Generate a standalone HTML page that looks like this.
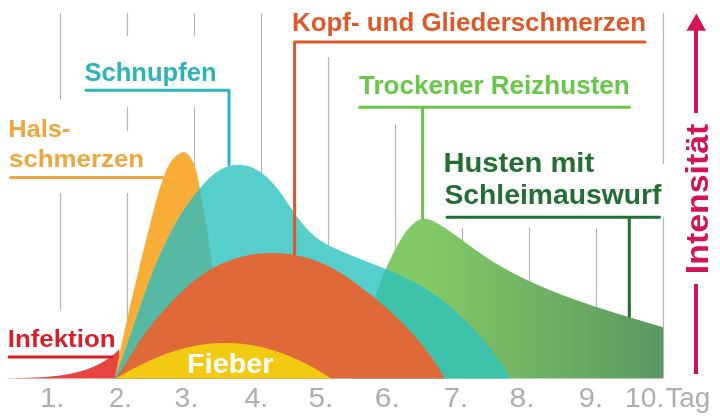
<!DOCTYPE html>
<html><head><meta charset="utf-8">
<style>
html,body{margin:0;padding:0;background:#fff;}
svg{display:block;will-change:transform;}
text{font-family:"Liberation Sans",sans-serif;}
</style></head><body>
<svg width="720" height="420" viewBox="0 0 720 420">
<defs>
<linearGradient id="gg" x1="425" y1="0" x2="663" y2="0" gradientUnits="userSpaceOnUse">
<stop offset="0" stop-color="#83ca66"/><stop offset="1" stop-color="#5a9862"/>
</linearGradient>
<clipPath id="cTeal"><path d="M114.50,378.50 L115.10,376.62 L115.88,374.71 L116.65,372.80 L117.41,370.89 L118.16,368.97 L118.91,367.05 L119.65,365.13 L120.38,363.20 L121.10,361.28 L121.83,359.35 L122.54,357.42 L123.25,355.49 L123.96,353.56 L124.66,351.63 L125.35,349.69 L126.04,347.76 L126.73,345.82 L127.41,343.88 L128.09,341.95 L128.77,340.01 L129.44,338.07 L130.12,336.13 L130.79,334.19 L131.45,332.25 L132.12,330.31 L132.78,328.37 L133.45,326.43 L134.11,324.49 L134.77,322.55 L135.43,320.61 L136.09,318.67 L136.75,316.73 L137.41,314.79 L138.07,312.85 L138.74,310.92 L139.40,308.98 L140.07,307.05 L140.73,305.11 L141.40,303.18 L142.08,301.25 L142.75,299.32 L143.43,297.39 L144.11,295.47 L144.79,293.54 L145.48,291.62 L146.17,289.70 L146.87,287.78 L147.57,285.87 L148.27,283.96 L148.98,282.04 L149.70,280.14 L150.42,278.23 L151.15,276.33 L151.88,274.43 L152.62,272.53 L153.37,270.64 L154.12,268.74 L154.88,266.86 L155.65,264.97 L156.42,263.09 L157.21,261.21 L158.00,259.34 L158.80,257.47 L159.61,255.60 L160.43,253.74 L161.26,251.88 L162.10,250.03 L162.95,248.18 L163.80,246.33 L164.67,244.49 L165.55,242.66 L166.44,240.83 L167.35,239.00 L168.26,237.18 L169.19,235.36 L170.12,233.55 L171.07,231.74 L172.04,229.94 L173.01,228.15 L174.00,226.36 L175.01,224.57 L176.02,222.80 L177.05,221.02 L178.10,219.26 L179.16,217.50 L180.23,215.74 L181.32,213.99 L182.43,212.25 L183.55,210.52 L184.69,208.79 L185.84,207.06 L187.01,205.35 L188.20,203.64 L189.40,201.94 L190.62,200.24 L191.86,198.56 L193.12,196.88 L194.39,195.21 L195.69,193.54 L197.00,191.88 L198.33,190.23 L199.68,188.59 L201.05,186.97 L202.44,185.36 L203.85,183.78 L205.29,182.22 L206.75,180.70 L208.23,179.22 L209.74,177.79 L211.27,176.40 L212.83,175.06 L214.42,173.79 L216.03,172.58 L217.68,171.44 L219.35,170.37 L221.05,169.38 L222.78,168.47 L224.55,167.66 L226.34,166.94 L228.17,166.31 L230.04,165.79 L231.93,165.38 L233.86,165.08 L235.81,164.89 L237.77,164.80 L239.74,164.83 L241.72,164.96 L243.69,165.21 L245.65,165.56 L247.59,166.03 L249.51,166.60 L251.40,167.28 L253.25,168.07 L255.08,168.95 L256.88,169.93 L258.64,170.99 L260.36,172.12 L262.05,173.33 L263.70,174.60 L265.32,175.93 L266.89,177.32 L268.43,178.75 L269.93,180.22 L271.38,181.72 L272.80,183.25 L274.17,184.81 L275.52,186.40 L276.83,188.00 L278.11,189.63 L279.37,191.28 L280.61,192.94 L281.83,194.62 L283.03,196.31 L284.22,198.01 L285.39,199.73 L286.57,201.44 L287.73,203.16 L288.90,204.89 L290.06,206.61 L291.23,208.33 L292.41,210.05 L293.59,211.76 L294.78,213.46 L295.98,215.16 L297.20,216.83 L298.43,218.50 L299.67,220.14 L300.93,221.76 L302.21,223.37 L303.52,224.94 L304.84,226.49 L306.19,228.01 L307.56,229.50 L308.96,230.96 L310.39,232.38 L311.84,233.76 L313.33,235.10 L314.86,236.40 L316.42,237.65 L318.01,238.85 L319.65,240.01 L321.32,241.12 L323.02,242.19 L324.75,243.21 L326.51,244.20 L328.30,245.16 L330.11,246.09 L331.93,246.99 L333.77,247.86 L335.63,248.72 L337.50,249.56 L339.38,250.38 L341.26,251.20 L343.14,252.00 L345.03,252.80 L346.93,253.59 L348.83,254.37 L350.73,255.15 L352.63,255.92 L354.54,256.68 L356.44,257.45 L358.35,258.20 L360.26,258.96 L362.18,259.71 L364.09,260.46 L366.00,261.21 L367.91,261.96 L369.83,262.71 L371.74,263.46 L373.65,264.21 L375.56,264.96 L377.47,265.72 L379.37,266.48 L381.27,267.25 L383.17,268.02 L385.07,268.79 L386.96,269.58 L388.85,270.37 L390.74,271.16 L392.62,271.97 L394.50,272.78 L396.37,273.61 L398.23,274.44 L400.09,275.28 L401.95,276.14 L403.79,277.01 L405.63,277.89 L407.46,278.79 L409.29,279.70 L411.10,280.62 L412.91,281.56 L414.71,282.52 L416.50,283.49 L418.28,284.48 L420.05,285.49 L421.82,286.52 L423.57,287.57 L425.31,288.63 L427.04,289.72 L428.76,290.82 L430.47,291.94 L432.17,293.07 L433.86,294.23 L435.54,295.39 L437.21,296.58 L438.87,297.78 L440.51,299.00 L442.15,300.24 L443.78,301.49 L445.39,302.75 L447.00,304.03 L448.59,305.33 L450.18,306.64 L451.75,307.96 L453.31,309.30 L454.86,310.65 L456.40,312.02 L457.93,313.40 L459.45,314.79 L460.96,316.20 L462.45,317.61 L463.93,319.04 L465.41,320.49 L466.87,321.94 L468.32,323.41 L469.76,324.88 L471.18,326.37 L472.60,327.87 L474.00,329.38 L475.40,330.90 L476.78,332.43 L478.15,333.97 L479.50,335.52 L480.85,337.08 L482.18,338.65 L483.51,340.23 L484.82,341.81 L486.11,343.41 L487.40,345.01 L488.67,346.62 L489.94,348.24 L491.18,349.86 L492.42,351.50 L493.65,353.14 L494.86,354.78 L496.06,356.44 L497.25,358.10 L498.42,359.76 L499.59,361.43 L500.74,363.11 L501.88,364.79 L503.00,366.48 L504.11,368.17 L505.21,369.86 L506.30,371.56 L507.38,373.27 L508.44,374.97 L509.49,376.68 L510.50,378.50 Z"/></clipPath>
</defs>
<rect width="720" height="420" fill="#fff"/>
<g stroke="#b6b6b6" stroke-width="1.2" fill="none">
<path d="M60.5,13 V100 M60.5,193 V310 M127.5,13 V36 M127.5,107 V131 M127.5,193 V330 M194.5,13 V36 M194.5,107 V300 M261.5,13 V300 M328.5,57 V300 M395.5,124 V300 M462.5,228 V300 M529.5,228 V330 M596.5,228 V330 M663.5,13 V164 M663.5,217 V378"/>
</g>
<path d="M8.30,378.50 L8.72,378.40 L9.10,378.39 L9.49,378.37 L9.87,378.36 L10.26,378.35 L10.64,378.33 L11.03,378.32 L11.41,378.30 L11.80,378.29 L12.18,378.28 L12.57,378.26 L12.95,378.25 L13.34,378.24 L13.73,378.22 L14.11,378.21 L14.50,378.20 L14.89,378.19 L15.28,378.17 L15.67,378.16 L16.06,378.15 L16.44,378.14 L16.83,378.13 L17.22,378.11 L17.61,378.10 L18.00,378.09 L18.39,378.08 L18.78,378.07 L19.17,378.05 L19.56,378.04 L19.96,378.03 L20.35,378.02 L20.74,378.01 L21.13,377.99 L21.52,377.98 L21.91,377.97 L22.31,377.96 L22.70,377.95 L23.09,377.93 L23.49,377.92 L23.88,377.91 L24.27,377.90 L24.67,377.89 L25.06,377.87 L25.45,377.86 L25.85,377.85 L26.24,377.83 L26.64,377.82 L27.03,377.81 L27.43,377.80 L27.82,377.78 L28.22,377.77 L28.61,377.75 L29.01,377.74 L29.40,377.73 L29.80,377.71 L30.19,377.70 L30.59,377.68 L30.98,377.67 L31.38,377.65 L31.78,377.64 L32.17,377.62 L32.57,377.61 L32.97,377.59 L33.36,377.57 L33.76,377.56 L34.15,377.54 L34.55,377.52 L34.95,377.51 L35.35,377.49 L35.74,377.47 L36.14,377.45 L36.54,377.43 L36.93,377.41 L37.33,377.39 L37.73,377.37 L38.12,377.35 L38.52,377.33 L38.92,377.31 L39.32,377.29 L39.71,377.27 L40.11,377.25 L40.51,377.23 L40.90,377.20 L41.30,377.18 L41.70,377.16 L42.10,377.13 L42.49,377.11 L42.89,377.08 L43.29,377.06 L43.68,377.03 L44.08,377.00 L44.48,376.98 L44.88,376.95 L45.27,376.92 L45.67,376.89 L46.07,376.86 L46.46,376.83 L46.86,376.80 L47.26,376.77 L47.65,376.74 L48.05,376.71 L48.45,376.68 L48.84,376.65 L49.24,376.61 L49.63,376.58 L50.03,376.54 L50.43,376.51 L50.82,376.47 L51.22,376.44 L51.61,376.40 L52.01,376.36 L52.40,376.33 L52.80,376.29 L53.19,376.25 L53.59,376.21 L53.98,376.17 L54.38,376.12 L54.77,376.08 L55.17,376.04 L55.56,376.00 L55.96,375.95 L56.35,375.91 L56.74,375.86 L57.14,375.81 L57.53,375.77 L57.92,375.72 L58.32,375.67 L58.71,375.62 L59.10,375.57 L59.49,375.52 L59.89,375.47 L60.28,375.41 L60.67,375.36 L61.06,375.31 L61.45,375.25 L61.84,375.20 L62.23,375.14 L62.63,375.08 L63.02,375.02 L63.41,374.96 L63.80,374.90 L64.18,374.84 L64.57,374.78 L64.96,374.72 L65.35,374.65 L65.74,374.59 L66.13,374.52 L66.52,374.46 L66.90,374.39 L67.29,374.32 L67.68,374.25 L68.07,374.18 L68.45,374.11 L68.84,374.04 L69.22,373.97 L69.61,373.89 L70.00,373.82 L70.38,373.74 L70.76,373.66 L71.15,373.58 L71.53,373.51 L71.92,373.42 L72.30,373.34 L72.68,373.26 L73.07,373.18 L73.45,373.09 L73.83,373.01 L74.21,372.92 L74.59,372.83 L74.97,372.74 L75.35,372.66 L75.73,372.56 L76.11,372.47 L76.49,372.38 L76.87,372.28 L77.25,372.19 L77.63,372.09 L78.00,371.99 L78.38,371.90 L78.76,371.80 L79.13,371.69 L79.51,371.59 L79.88,371.49 L80.26,371.38 L80.63,371.28 L81.01,371.17 L81.38,371.06 L81.76,370.95 L82.13,370.84 L82.50,370.73 L82.87,370.61 L83.24,370.50 L83.61,370.38 L83.98,370.27 L84.35,370.15 L84.72,370.03 L85.09,369.91 L85.46,369.78 L85.83,369.66 L86.20,369.53 L86.56,369.41 L86.93,369.28 L87.30,369.15 L87.66,369.02 L88.03,368.89 L88.39,368.75 L88.75,368.62 L89.12,368.48 L89.48,368.34 L89.84,368.21 L90.20,368.07 L90.56,367.92 L90.92,367.78 L91.28,367.64 L91.64,367.49 L92.00,367.34 L92.36,367.19 L92.72,367.04 L93.07,366.89 L93.43,366.74 L93.79,366.58 L94.14,366.42 L94.50,366.27 L94.85,366.11 L95.20,365.95 L95.56,365.78 L95.91,365.62 L96.26,365.45 L96.61,365.29 L96.96,365.12 L97.31,364.95 L97.66,364.77 L98.01,364.60 L98.35,364.43 L98.70,364.25 L99.05,364.07 L99.39,363.89 L99.74,363.71 L100.08,363.52 L100.43,363.34 L100.77,363.15 L101.11,362.96 L101.45,362.78 L101.79,362.58 L102.13,362.39 L102.47,362.20 L102.81,362.00 L103.15,361.80 L103.49,361.60 L103.82,361.40 L104.16,361.19 L104.49,360.99 L104.83,360.78 L105.16,360.57 L105.49,360.36 L105.83,360.15 L106.16,359.94 L106.49,359.72 L106.82,359.50 L107.15,359.28 L107.48,359.06 L107.80,358.84 L108.13,358.61 L108.46,358.39 L108.78,358.16 L109.10,357.93 L109.43,357.69 L109.75,357.46 L110.07,357.22 L110.39,356.99 L110.71,356.75 L111.03,356.50 L111.35,356.26 L111.67,356.02 L111.99,355.77 L112.30,355.52 L112.62,355.27 L112.93,355.01 L113.25,354.76 L113.56,354.50 L113.87,354.24 L114.18,353.98 L114.49,353.72 L114.80,353.45 L115.11,353.18 L115.42,352.92 L115.72,352.64 L116.03,352.37 L116.34,352.10 L116.64,351.82 L116.94,351.54 L117.24,351.26 L117.55,350.97 L117.85,350.69 L118.15,350.40 L118.44,350.11 L118.74,349.82 L119.04,349.53 L119.30,349.50 L121,378.5 Z" fill="#e84341"/>
<path d="M350.00,378.50 L350.49,377.10 L350.99,375.72 L351.50,374.33 L351.99,372.94 L352.48,371.54 L352.97,370.14 L353.45,368.74 L353.93,367.34 L354.40,365.93 L354.87,364.52 L355.33,363.11 L355.79,361.70 L356.24,360.28 L356.69,358.86 L357.14,357.44 L357.59,356.02 L358.03,354.60 L358.47,353.17 L358.90,351.74 L359.33,350.31 L359.77,348.88 L360.19,347.45 L360.62,346.01 L361.04,344.58 L361.47,343.14 L361.89,341.70 L362.31,340.27 L362.73,338.83 L363.14,337.39 L363.56,335.95 L363.98,334.51 L364.39,333.07 L364.81,331.62 L365.23,330.18 L365.64,328.74 L366.06,327.30 L366.47,325.86 L366.89,324.41 L367.31,322.97 L367.73,321.53 L368.15,320.09 L368.57,318.65 L368.99,317.21 L369.42,315.77 L369.84,314.34 L370.27,312.90 L370.70,311.47 L371.14,310.03 L371.58,308.60 L372.01,307.17 L372.46,305.74 L372.90,304.31 L373.35,302.88 L373.80,301.46 L374.26,300.04 L374.72,298.61 L375.18,297.20 L375.65,295.78 L376.13,294.37 L376.60,292.95 L377.09,291.54 L377.57,290.14 L378.07,288.73 L378.56,287.33 L379.07,285.94 L379.58,284.54 L380.09,283.15 L380.61,281.76 L381.14,280.37 L381.68,278.99 L382.22,277.61 L382.77,276.24 L383.32,274.87 L383.88,273.50 L384.45,272.14 L385.03,270.78 L385.61,269.42 L386.21,268.07 L386.81,266.73 L387.41,265.38 L388.03,264.04 L388.65,262.71 L389.29,261.37 L389.92,260.04 L390.57,258.71 L391.22,257.38 L391.88,256.05 L392.55,254.72 L393.23,253.40 L393.91,252.07 L394.60,250.74 L395.29,249.41 L396.00,248.08 L396.71,246.75 L397.43,245.42 L398.16,244.10 L398.90,242.78 L399.66,241.46 L400.43,240.15 L401.21,238.85 L402.02,237.56 L402.84,236.28 L403.69,235.02 L404.55,233.76 L405.44,232.53 L406.35,231.31 L407.29,230.11 L408.26,228.93 L409.25,227.77 L410.28,226.63 L411.33,225.52 L412.41,224.46 L413.53,223.45 L414.66,222.50 L415.83,221.63 L417.01,220.86 L418.22,220.18 L419.46,219.62 L420.71,219.18 L421.99,218.88 L423.28,218.72 L424.59,218.71 L425.91,218.82 L427.25,219.05 L428.59,219.38 L429.95,219.81 L431.31,220.33 L432.67,220.92 L434.03,221.57 L435.39,222.28 L436.75,223.02 L438.10,223.80 L439.44,224.60 L440.77,225.42 L442.09,226.24 L443.40,227.07 L444.70,227.90 L445.99,228.75 L447.27,229.59 L448.54,230.45 L449.80,231.31 L451.06,232.18 L452.31,233.05 L453.55,233.92 L454.79,234.80 L456.02,235.68 L457.25,236.57 L458.47,237.45 L459.69,238.34 L460.90,239.23 L462.11,240.12 L463.32,241.01 L464.52,241.90 L465.72,242.79 L466.93,243.68 L468.13,244.57 L469.33,245.45 L470.53,246.34 L471.73,247.22 L472.93,248.09 L474.13,248.97 L475.34,249.84 L476.54,250.70 L477.75,251.56 L478.97,252.41 L480.18,253.26 L481.41,254.10 L482.63,254.93 L483.86,255.76 L485.09,256.58 L486.33,257.40 L487.57,258.20 L488.82,259.01 L490.07,259.80 L491.32,260.59 L492.58,261.37 L493.84,262.15 L495.10,262.92 L496.37,263.69 L497.64,264.45 L498.92,265.20 L500.20,265.95 L501.48,266.69 L502.77,267.43 L504.06,268.16 L505.35,268.88 L506.65,269.60 L507.94,270.32 L509.25,271.03 L510.55,271.73 L511.86,272.43 L513.17,273.12 L514.49,273.81 L515.81,274.49 L517.13,275.17 L518.45,275.84 L519.78,276.50 L521.11,277.17 L522.44,277.82 L523.78,278.47 L525.12,279.12 L526.46,279.76 L527.80,280.40 L529.15,281.03 L530.50,281.66 L531.85,282.29 L533.21,282.90 L534.56,283.52 L535.92,284.13 L537.28,284.73 L538.65,285.34 L540.01,285.93 L541.38,286.53 L542.75,287.11 L544.12,287.70 L545.50,288.28 L546.88,288.86 L548.25,289.43 L549.64,290.00 L551.02,290.56 L552.40,291.12 L553.79,291.68 L555.18,292.23 L556.57,292.78 L557.96,293.33 L559.35,293.87 L560.75,294.41 L562.15,294.94 L563.54,295.47 L564.94,296.00 L566.35,296.53 L567.75,297.05 L569.15,297.57 L570.56,298.08 L571.97,298.59 L573.37,299.10 L574.78,299.61 L576.19,300.11 L577.61,300.61 L579.02,301.11 L580.43,301.60 L581.85,302.09 L583.26,302.58 L584.68,303.07 L586.10,303.55 L587.52,304.03 L588.94,304.51 L590.36,304.99 L591.78,305.46 L593.20,305.93 L594.62,306.40 L596.04,306.87 L597.47,307.33 L598.89,307.79 L600.32,308.25 L601.74,308.71 L603.17,309.17 L604.59,309.62 L606.02,310.07 L607.44,310.52 L608.87,310.97 L610.30,311.42 L611.72,311.86 L613.15,312.31 L614.58,312.75 L616.00,313.19 L617.43,313.63 L618.86,314.06 L620.28,314.50 L621.71,314.93 L623.14,315.37 L624.56,315.80 L625.99,316.23 L627.41,316.66 L628.84,317.09 L630.26,317.51 L631.69,317.94 L633.11,318.36 L634.53,318.79 L635.95,319.21 L637.38,319.63 L638.80,320.06 L640.22,320.48 L641.64,320.90 L643.06,321.32 L644.47,321.74 L645.89,322.15 L647.31,322.57 L648.72,322.99 L650.14,323.41 L651.55,323.83 L652.96,324.24 L654.37,324.66 L655.78,325.08 L657.19,325.49 L658.60,325.91 L660.00,326.33 L661.41,326.74 L663.00,327.10 L663,378.5 Z" fill="url(#gg)"/>
<path d="M114.50,378.50 L114.88,377.04 L115.16,375.62 L115.43,374.20 L115.71,372.77 L115.99,371.35 L116.28,369.92 L116.56,368.50 L116.85,367.07 L117.13,365.65 L117.42,364.22 L117.71,362.80 L118.00,361.37 L118.29,359.95 L118.58,358.52 L118.88,357.09 L119.17,355.67 L119.47,354.24 L119.77,352.82 L120.06,351.39 L120.36,349.96 L120.66,348.54 L120.97,347.11 L121.27,345.69 L121.57,344.26 L121.88,342.83 L122.18,341.41 L122.49,339.98 L122.80,338.55 L123.11,337.13 L123.42,335.70 L123.73,334.27 L124.04,332.85 L124.36,331.42 L124.67,329.99 L124.99,328.57 L125.30,327.14 L125.62,325.71 L125.94,324.29 L126.26,322.86 L126.58,321.44 L126.90,320.01 L127.22,318.58 L127.54,317.16 L127.87,315.73 L128.19,314.31 L128.52,312.88 L128.84,311.45 L129.17,310.03 L129.50,308.60 L129.83,307.18 L130.16,305.75 L130.49,304.33 L130.82,302.90 L131.15,301.48 L131.48,300.05 L131.82,298.63 L132.15,297.21 L132.48,295.78 L132.82,294.36 L133.16,292.93 L133.49,291.51 L133.83,290.09 L134.17,288.66 L134.51,287.24 L134.85,285.82 L135.19,284.40 L135.53,282.97 L135.87,281.55 L136.21,280.13 L136.55,278.71 L136.90,277.29 L137.24,275.87 L137.58,274.45 L137.93,273.02 L138.27,271.60 L138.62,270.18 L138.96,268.77 L139.31,267.35 L139.66,265.93 L140.01,264.51 L140.35,263.09 L140.70,261.67 L141.05,260.25 L141.40,258.84 L141.75,257.42 L142.10,256.00 L142.45,254.59 L142.80,253.17 L143.15,251.76 L143.50,250.34 L143.86,248.93 L144.21,247.51 L144.56,246.10 L144.91,244.68 L145.27,243.27 L145.62,241.86 L145.97,240.45 L146.33,239.03 L146.68,237.62 L147.04,236.21 L147.39,234.80 L147.74,233.39 L148.10,231.98 L148.45,230.57 L148.81,229.16 L149.17,227.76 L149.52,226.35 L149.88,224.94 L150.23,223.53 L150.59,222.13 L150.95,220.72 L151.30,219.32 L151.66,217.91 L152.02,216.51 L152.37,215.10 L152.73,213.70 L153.09,212.30 L153.46,210.89 L153.82,209.49 L154.19,208.09 L154.56,206.69 L154.93,205.29 L155.31,203.89 L155.69,202.48 L156.07,201.08 L156.46,199.68 L156.86,198.28 L157.26,196.88 L157.66,195.48 L158.07,194.08 L158.49,192.68 L158.91,191.28 L159.34,189.87 L159.77,188.47 L160.22,187.07 L160.67,185.67 L161.12,184.27 L161.59,182.86 L162.07,181.46 L162.55,180.06 L163.04,178.66 L163.55,177.25 L164.06,175.85 L164.58,174.45 L165.13,173.05 L165.69,171.66 L166.27,170.28 L166.88,168.92 L167.53,167.58 L168.20,166.25 L168.91,164.95 L169.66,163.67 L170.46,162.42 L171.30,161.20 L172.19,160.02 L173.14,158.88 L174.14,157.77 L175.21,156.71 L176.33,155.70 L177.52,154.75 L178.74,153.91 L179.98,153.19 L181.22,152.64 L182.45,152.28 L183.64,152.16 L184.78,152.30 L185.86,152.71 L186.88,153.35 L187.85,154.17 L188.76,155.13 L189.61,156.20 L190.42,157.34 L191.17,158.51 L191.88,159.71 L192.54,160.95 L193.16,162.21 L193.74,163.49 L194.28,164.80 L194.79,166.14 L195.26,167.49 L195.70,168.86 L196.12,170.25 L196.50,171.66 L196.87,173.08 L197.21,174.52 L197.53,175.96 L197.84,177.42 L198.13,178.88 L198.41,180.35 L198.68,181.83 L198.95,183.31 L199.20,184.78 L199.46,186.26 L199.72,187.74 L199.97,189.22 L200.23,190.69 L200.48,192.16 L200.74,193.63 L200.99,195.10 L201.24,196.56 L201.50,198.02 L201.75,199.49 L202.00,200.95 L202.26,202.41 L202.51,203.86 L202.76,205.32 L203.01,206.77 L203.26,208.23 L203.51,209.68 L203.76,211.13 L204.00,212.57 L204.25,214.02 L204.50,215.47 L204.74,216.91 L204.98,218.36 L205.22,219.80 L205.46,221.24 L205.70,222.68 L205.94,224.12 L206.18,225.56 L206.41,227.00 L206.65,228.44 L206.88,229.87 L207.11,231.31 L207.34,232.74 L207.56,234.18 L207.79,235.61 L208.01,237.04 L208.23,238.48 L208.45,239.91 L208.67,241.34 L208.89,242.77 L209.10,244.20 L209.31,245.63 L209.52,247.06 L209.73,248.49 L209.93,249.92 L210.13,251.35 L210.33,252.78 L210.53,254.21 L210.72,255.64 L210.91,257.07 L211.10,258.50 L211.29,259.93 L211.47,261.36 L211.66,262.79 L211.83,264.22 L212.01,265.66 L212.18,267.09 L212.35,268.52 L212.52,269.95 L212.68,271.38 L212.84,272.82 L212.99,274.25 L213.15,275.69 L213.30,277.12 L213.44,278.56 L213.59,280.00 L213.72,281.43 L213.86,282.87 L213.99,284.31 L214.12,285.75 L214.25,287.20 L214.37,288.64 L214.48,290.08 L214.60,291.53 L214.71,292.97 L214.81,294.42 L214.91,295.87 L215.01,297.32 L215.10,298.77 L215.19,300.22 L215.27,301.68 L215.35,303.13 L215.43,304.59 L215.50,306.05 L215.57,307.51 L215.63,308.97 L215.69,310.44 L215.74,311.90 L215.79,313.37 L215.83,314.84 L215.87,316.31 L215.90,317.78 L215.93,319.26 L215.95,320.74 L215.97,322.21 L215.99,323.70 L215.99,325.18 L216.00,326.67 L216.00,328.15 L215.99,329.64 L215.98,331.14 L215.96,332.63 L215.93,334.13 L215.90,335.63 L215.87,337.13 L215.83,338.64 L216.00,340.00 L216,378.5 Z" fill="#f8ad38"/>
<path d="M114.50,378.50 L115.10,376.62 L115.88,374.71 L116.65,372.80 L117.41,370.89 L118.16,368.97 L118.91,367.05 L119.65,365.13 L120.38,363.20 L121.10,361.28 L121.83,359.35 L122.54,357.42 L123.25,355.49 L123.96,353.56 L124.66,351.63 L125.35,349.69 L126.04,347.76 L126.73,345.82 L127.41,343.88 L128.09,341.95 L128.77,340.01 L129.44,338.07 L130.12,336.13 L130.79,334.19 L131.45,332.25 L132.12,330.31 L132.78,328.37 L133.45,326.43 L134.11,324.49 L134.77,322.55 L135.43,320.61 L136.09,318.67 L136.75,316.73 L137.41,314.79 L138.07,312.85 L138.74,310.92 L139.40,308.98 L140.07,307.05 L140.73,305.11 L141.40,303.18 L142.08,301.25 L142.75,299.32 L143.43,297.39 L144.11,295.47 L144.79,293.54 L145.48,291.62 L146.17,289.70 L146.87,287.78 L147.57,285.87 L148.27,283.96 L148.98,282.04 L149.70,280.14 L150.42,278.23 L151.15,276.33 L151.88,274.43 L152.62,272.53 L153.37,270.64 L154.12,268.74 L154.88,266.86 L155.65,264.97 L156.42,263.09 L157.21,261.21 L158.00,259.34 L158.80,257.47 L159.61,255.60 L160.43,253.74 L161.26,251.88 L162.10,250.03 L162.95,248.18 L163.80,246.33 L164.67,244.49 L165.55,242.66 L166.44,240.83 L167.35,239.00 L168.26,237.18 L169.19,235.36 L170.12,233.55 L171.07,231.74 L172.04,229.94 L173.01,228.15 L174.00,226.36 L175.01,224.57 L176.02,222.80 L177.05,221.02 L178.10,219.26 L179.16,217.50 L180.23,215.74 L181.32,213.99 L182.43,212.25 L183.55,210.52 L184.69,208.79 L185.84,207.06 L187.01,205.35 L188.20,203.64 L189.40,201.94 L190.62,200.24 L191.86,198.56 L193.12,196.88 L194.39,195.21 L195.69,193.54 L197.00,191.88 L198.33,190.23 L199.68,188.59 L201.05,186.97 L202.44,185.36 L203.85,183.78 L205.29,182.22 L206.75,180.70 L208.23,179.22 L209.74,177.79 L211.27,176.40 L212.83,175.06 L214.42,173.79 L216.03,172.58 L217.68,171.44 L219.35,170.37 L221.05,169.38 L222.78,168.47 L224.55,167.66 L226.34,166.94 L228.17,166.31 L230.04,165.79 L231.93,165.38 L233.86,165.08 L235.81,164.89 L237.77,164.80 L239.74,164.83 L241.72,164.96 L243.69,165.21 L245.65,165.56 L247.59,166.03 L249.51,166.60 L251.40,167.28 L253.25,168.07 L255.08,168.95 L256.88,169.93 L258.64,170.99 L260.36,172.12 L262.05,173.33 L263.70,174.60 L265.32,175.93 L266.89,177.32 L268.43,178.75 L269.93,180.22 L271.38,181.72 L272.80,183.25 L274.17,184.81 L275.52,186.40 L276.83,188.00 L278.11,189.63 L279.37,191.28 L280.61,192.94 L281.83,194.62 L283.03,196.31 L284.22,198.01 L285.39,199.73 L286.57,201.44 L287.73,203.16 L288.90,204.89 L290.06,206.61 L291.23,208.33 L292.41,210.05 L293.59,211.76 L294.78,213.46 L295.98,215.16 L297.20,216.83 L298.43,218.50 L299.67,220.14 L300.93,221.76 L302.21,223.37 L303.52,224.94 L304.84,226.49 L306.19,228.01 L307.56,229.50 L308.96,230.96 L310.39,232.38 L311.84,233.76 L313.33,235.10 L314.86,236.40 L316.42,237.65 L318.01,238.85 L319.65,240.01 L321.32,241.12 L323.02,242.19 L324.75,243.21 L326.51,244.20 L328.30,245.16 L330.11,246.09 L331.93,246.99 L333.77,247.86 L335.63,248.72 L337.50,249.56 L339.38,250.38 L341.26,251.20 L343.14,252.00 L345.03,252.80 L346.93,253.59 L348.83,254.37 L350.73,255.15 L352.63,255.92 L354.54,256.68 L356.44,257.45 L358.35,258.20 L360.26,258.96 L362.18,259.71 L364.09,260.46 L366.00,261.21 L367.91,261.96 L369.83,262.71 L371.74,263.46 L373.65,264.21 L375.56,264.96 L377.47,265.72 L379.37,266.48 L381.27,267.25 L383.17,268.02 L385.07,268.79 L386.96,269.58 L388.85,270.37 L390.74,271.16 L392.62,271.97 L394.50,272.78 L396.37,273.61 L398.23,274.44 L400.09,275.28 L401.95,276.14 L403.79,277.01 L405.63,277.89 L407.46,278.79 L409.29,279.70 L411.10,280.62 L412.91,281.56 L414.71,282.52 L416.50,283.49 L418.28,284.48 L420.05,285.49 L421.82,286.52 L423.57,287.57 L425.31,288.63 L427.04,289.72 L428.76,290.82 L430.47,291.94 L432.17,293.07 L433.86,294.23 L435.54,295.39 L437.21,296.58 L438.87,297.78 L440.51,299.00 L442.15,300.24 L443.78,301.49 L445.39,302.75 L447.00,304.03 L448.59,305.33 L450.18,306.64 L451.75,307.96 L453.31,309.30 L454.86,310.65 L456.40,312.02 L457.93,313.40 L459.45,314.79 L460.96,316.20 L462.45,317.61 L463.93,319.04 L465.41,320.49 L466.87,321.94 L468.32,323.41 L469.76,324.88 L471.18,326.37 L472.60,327.87 L474.00,329.38 L475.40,330.90 L476.78,332.43 L478.15,333.97 L479.50,335.52 L480.85,337.08 L482.18,338.65 L483.51,340.23 L484.82,341.81 L486.11,343.41 L487.40,345.01 L488.67,346.62 L489.94,348.24 L491.18,349.86 L492.42,351.50 L493.65,353.14 L494.86,354.78 L496.06,356.44 L497.25,358.10 L498.42,359.76 L499.59,361.43 L500.74,363.11 L501.88,364.79 L503.00,366.48 L504.11,368.17 L505.21,369.86 L506.30,371.56 L507.38,373.27 L508.44,374.97 L509.49,376.68 L510.50,378.50 Z" fill="#56cecc"/>
<g clip-path="url(#cTeal)">
<path d="M114.50,378.50 L114.88,377.04 L115.16,375.62 L115.43,374.20 L115.71,372.77 L115.99,371.35 L116.28,369.92 L116.56,368.50 L116.85,367.07 L117.13,365.65 L117.42,364.22 L117.71,362.80 L118.00,361.37 L118.29,359.95 L118.58,358.52 L118.88,357.09 L119.17,355.67 L119.47,354.24 L119.77,352.82 L120.06,351.39 L120.36,349.96 L120.66,348.54 L120.97,347.11 L121.27,345.69 L121.57,344.26 L121.88,342.83 L122.18,341.41 L122.49,339.98 L122.80,338.55 L123.11,337.13 L123.42,335.70 L123.73,334.27 L124.04,332.85 L124.36,331.42 L124.67,329.99 L124.99,328.57 L125.30,327.14 L125.62,325.71 L125.94,324.29 L126.26,322.86 L126.58,321.44 L126.90,320.01 L127.22,318.58 L127.54,317.16 L127.87,315.73 L128.19,314.31 L128.52,312.88 L128.84,311.45 L129.17,310.03 L129.50,308.60 L129.83,307.18 L130.16,305.75 L130.49,304.33 L130.82,302.90 L131.15,301.48 L131.48,300.05 L131.82,298.63 L132.15,297.21 L132.48,295.78 L132.82,294.36 L133.16,292.93 L133.49,291.51 L133.83,290.09 L134.17,288.66 L134.51,287.24 L134.85,285.82 L135.19,284.40 L135.53,282.97 L135.87,281.55 L136.21,280.13 L136.55,278.71 L136.90,277.29 L137.24,275.87 L137.58,274.45 L137.93,273.02 L138.27,271.60 L138.62,270.18 L138.96,268.77 L139.31,267.35 L139.66,265.93 L140.01,264.51 L140.35,263.09 L140.70,261.67 L141.05,260.25 L141.40,258.84 L141.75,257.42 L142.10,256.00 L142.45,254.59 L142.80,253.17 L143.15,251.76 L143.50,250.34 L143.86,248.93 L144.21,247.51 L144.56,246.10 L144.91,244.68 L145.27,243.27 L145.62,241.86 L145.97,240.45 L146.33,239.03 L146.68,237.62 L147.04,236.21 L147.39,234.80 L147.74,233.39 L148.10,231.98 L148.45,230.57 L148.81,229.16 L149.17,227.76 L149.52,226.35 L149.88,224.94 L150.23,223.53 L150.59,222.13 L150.95,220.72 L151.30,219.32 L151.66,217.91 L152.02,216.51 L152.37,215.10 L152.73,213.70 L153.09,212.30 L153.46,210.89 L153.82,209.49 L154.19,208.09 L154.56,206.69 L154.93,205.29 L155.31,203.89 L155.69,202.48 L156.07,201.08 L156.46,199.68 L156.86,198.28 L157.26,196.88 L157.66,195.48 L158.07,194.08 L158.49,192.68 L158.91,191.28 L159.34,189.87 L159.77,188.47 L160.22,187.07 L160.67,185.67 L161.12,184.27 L161.59,182.86 L162.07,181.46 L162.55,180.06 L163.04,178.66 L163.55,177.25 L164.06,175.85 L164.58,174.45 L165.13,173.05 L165.69,171.66 L166.27,170.28 L166.88,168.92 L167.53,167.58 L168.20,166.25 L168.91,164.95 L169.66,163.67 L170.46,162.42 L171.30,161.20 L172.19,160.02 L173.14,158.88 L174.14,157.77 L175.21,156.71 L176.33,155.70 L177.52,154.75 L178.74,153.91 L179.98,153.19 L181.22,152.64 L182.45,152.28 L183.64,152.16 L184.78,152.30 L185.86,152.71 L186.88,153.35 L187.85,154.17 L188.76,155.13 L189.61,156.20 L190.42,157.34 L191.17,158.51 L191.88,159.71 L192.54,160.95 L193.16,162.21 L193.74,163.49 L194.28,164.80 L194.79,166.14 L195.26,167.49 L195.70,168.86 L196.12,170.25 L196.50,171.66 L196.87,173.08 L197.21,174.52 L197.53,175.96 L197.84,177.42 L198.13,178.88 L198.41,180.35 L198.68,181.83 L198.95,183.31 L199.20,184.78 L199.46,186.26 L199.72,187.74 L199.97,189.22 L200.23,190.69 L200.48,192.16 L200.74,193.63 L200.99,195.10 L201.24,196.56 L201.50,198.02 L201.75,199.49 L202.00,200.95 L202.26,202.41 L202.51,203.86 L202.76,205.32 L203.01,206.77 L203.26,208.23 L203.51,209.68 L203.76,211.13 L204.00,212.57 L204.25,214.02 L204.50,215.47 L204.74,216.91 L204.98,218.36 L205.22,219.80 L205.46,221.24 L205.70,222.68 L205.94,224.12 L206.18,225.56 L206.41,227.00 L206.65,228.44 L206.88,229.87 L207.11,231.31 L207.34,232.74 L207.56,234.18 L207.79,235.61 L208.01,237.04 L208.23,238.48 L208.45,239.91 L208.67,241.34 L208.89,242.77 L209.10,244.20 L209.31,245.63 L209.52,247.06 L209.73,248.49 L209.93,249.92 L210.13,251.35 L210.33,252.78 L210.53,254.21 L210.72,255.64 L210.91,257.07 L211.10,258.50 L211.29,259.93 L211.47,261.36 L211.66,262.79 L211.83,264.22 L212.01,265.66 L212.18,267.09 L212.35,268.52 L212.52,269.95 L212.68,271.38 L212.84,272.82 L212.99,274.25 L213.15,275.69 L213.30,277.12 L213.44,278.56 L213.59,280.00 L213.72,281.43 L213.86,282.87 L213.99,284.31 L214.12,285.75 L214.25,287.20 L214.37,288.64 L214.48,290.08 L214.60,291.53 L214.71,292.97 L214.81,294.42 L214.91,295.87 L215.01,297.32 L215.10,298.77 L215.19,300.22 L215.27,301.68 L215.35,303.13 L215.43,304.59 L215.50,306.05 L215.57,307.51 L215.63,308.97 L215.69,310.44 L215.74,311.90 L215.79,313.37 L215.83,314.84 L215.87,316.31 L215.90,317.78 L215.93,319.26 L215.95,320.74 L215.97,322.21 L215.99,323.70 L215.99,325.18 L216.00,326.67 L216.00,328.15 L215.99,329.64 L215.98,331.14 L215.96,332.63 L215.93,334.13 L215.90,335.63 L215.87,337.13 L215.83,338.64 L216.00,340.00 L216,378.5 Z" fill="#56b9a3"/>
<path d="M350.00,378.50 L350.49,377.10 L350.99,375.72 L351.50,374.33 L351.99,372.94 L352.48,371.54 L352.97,370.14 L353.45,368.74 L353.93,367.34 L354.40,365.93 L354.87,364.52 L355.33,363.11 L355.79,361.70 L356.24,360.28 L356.69,358.86 L357.14,357.44 L357.59,356.02 L358.03,354.60 L358.47,353.17 L358.90,351.74 L359.33,350.31 L359.77,348.88 L360.19,347.45 L360.62,346.01 L361.04,344.58 L361.47,343.14 L361.89,341.70 L362.31,340.27 L362.73,338.83 L363.14,337.39 L363.56,335.95 L363.98,334.51 L364.39,333.07 L364.81,331.62 L365.23,330.18 L365.64,328.74 L366.06,327.30 L366.47,325.86 L366.89,324.41 L367.31,322.97 L367.73,321.53 L368.15,320.09 L368.57,318.65 L368.99,317.21 L369.42,315.77 L369.84,314.34 L370.27,312.90 L370.70,311.47 L371.14,310.03 L371.58,308.60 L372.01,307.17 L372.46,305.74 L372.90,304.31 L373.35,302.88 L373.80,301.46 L374.26,300.04 L374.72,298.61 L375.18,297.20 L375.65,295.78 L376.13,294.37 L376.60,292.95 L377.09,291.54 L377.57,290.14 L378.07,288.73 L378.56,287.33 L379.07,285.94 L379.58,284.54 L380.09,283.15 L380.61,281.76 L381.14,280.37 L381.68,278.99 L382.22,277.61 L382.77,276.24 L383.32,274.87 L383.88,273.50 L384.45,272.14 L385.03,270.78 L385.61,269.42 L386.21,268.07 L386.81,266.73 L387.41,265.38 L388.03,264.04 L388.65,262.71 L389.29,261.37 L389.92,260.04 L390.57,258.71 L391.22,257.38 L391.88,256.05 L392.55,254.72 L393.23,253.40 L393.91,252.07 L394.60,250.74 L395.29,249.41 L396.00,248.08 L396.71,246.75 L397.43,245.42 L398.16,244.10 L398.90,242.78 L399.66,241.46 L400.43,240.15 L401.21,238.85 L402.02,237.56 L402.84,236.28 L403.69,235.02 L404.55,233.76 L405.44,232.53 L406.35,231.31 L407.29,230.11 L408.26,228.93 L409.25,227.77 L410.28,226.63 L411.33,225.52 L412.41,224.46 L413.53,223.45 L414.66,222.50 L415.83,221.63 L417.01,220.86 L418.22,220.18 L419.46,219.62 L420.71,219.18 L421.99,218.88 L423.28,218.72 L424.59,218.71 L425.91,218.82 L427.25,219.05 L428.59,219.38 L429.95,219.81 L431.31,220.33 L432.67,220.92 L434.03,221.57 L435.39,222.28 L436.75,223.02 L438.10,223.80 L439.44,224.60 L440.77,225.42 L442.09,226.24 L443.40,227.07 L444.70,227.90 L445.99,228.75 L447.27,229.59 L448.54,230.45 L449.80,231.31 L451.06,232.18 L452.31,233.05 L453.55,233.92 L454.79,234.80 L456.02,235.68 L457.25,236.57 L458.47,237.45 L459.69,238.34 L460.90,239.23 L462.11,240.12 L463.32,241.01 L464.52,241.90 L465.72,242.79 L466.93,243.68 L468.13,244.57 L469.33,245.45 L470.53,246.34 L471.73,247.22 L472.93,248.09 L474.13,248.97 L475.34,249.84 L476.54,250.70 L477.75,251.56 L478.97,252.41 L480.18,253.26 L481.41,254.10 L482.63,254.93 L483.86,255.76 L485.09,256.58 L486.33,257.40 L487.57,258.20 L488.82,259.01 L490.07,259.80 L491.32,260.59 L492.58,261.37 L493.84,262.15 L495.10,262.92 L496.37,263.69 L497.64,264.45 L498.92,265.20 L500.20,265.95 L501.48,266.69 L502.77,267.43 L504.06,268.16 L505.35,268.88 L506.65,269.60 L507.94,270.32 L509.25,271.03 L510.55,271.73 L511.86,272.43 L513.17,273.12 L514.49,273.81 L515.81,274.49 L517.13,275.17 L518.45,275.84 L519.78,276.50 L521.11,277.17 L522.44,277.82 L523.78,278.47 L525.12,279.12 L526.46,279.76 L527.80,280.40 L529.15,281.03 L530.50,281.66 L531.85,282.29 L533.21,282.90 L534.56,283.52 L535.92,284.13 L537.28,284.73 L538.65,285.34 L540.01,285.93 L541.38,286.53 L542.75,287.11 L544.12,287.70 L545.50,288.28 L546.88,288.86 L548.25,289.43 L549.64,290.00 L551.02,290.56 L552.40,291.12 L553.79,291.68 L555.18,292.23 L556.57,292.78 L557.96,293.33 L559.35,293.87 L560.75,294.41 L562.15,294.94 L563.54,295.47 L564.94,296.00 L566.35,296.53 L567.75,297.05 L569.15,297.57 L570.56,298.08 L571.97,298.59 L573.37,299.10 L574.78,299.61 L576.19,300.11 L577.61,300.61 L579.02,301.11 L580.43,301.60 L581.85,302.09 L583.26,302.58 L584.68,303.07 L586.10,303.55 L587.52,304.03 L588.94,304.51 L590.36,304.99 L591.78,305.46 L593.20,305.93 L594.62,306.40 L596.04,306.87 L597.47,307.33 L598.89,307.79 L600.32,308.25 L601.74,308.71 L603.17,309.17 L604.59,309.62 L606.02,310.07 L607.44,310.52 L608.87,310.97 L610.30,311.42 L611.72,311.86 L613.15,312.31 L614.58,312.75 L616.00,313.19 L617.43,313.63 L618.86,314.06 L620.28,314.50 L621.71,314.93 L623.14,315.37 L624.56,315.80 L625.99,316.23 L627.41,316.66 L628.84,317.09 L630.26,317.51 L631.69,317.94 L633.11,318.36 L634.53,318.79 L635.95,319.21 L637.38,319.63 L638.80,320.06 L640.22,320.48 L641.64,320.90 L643.06,321.32 L644.47,321.74 L645.89,322.15 L647.31,322.57 L648.72,322.99 L650.14,323.41 L651.55,323.83 L652.96,324.24 L654.37,324.66 L655.78,325.08 L657.19,325.49 L658.60,325.91 L660.00,326.33 L661.41,326.74 L663.00,327.10 L663,378.5 Z" fill="#3ec2aa"/>
</g>
<path d="M114.50,378.50 L115.73,377.60 L116.65,376.48 L117.54,375.34 L118.42,374.18 L119.28,373.02 L120.13,371.85 L120.96,370.66 L121.78,369.47 L122.59,368.27 L123.39,367.06 L124.17,365.85 L124.95,364.63 L125.72,363.40 L126.48,362.18 L127.24,360.94 L127.99,359.71 L128.74,358.47 L129.49,357.23 L130.23,355.99 L130.98,354.76 L131.72,353.52 L132.47,352.28 L133.22,351.05 L133.97,349.82 L134.73,348.60 L135.50,347.38 L136.27,346.16 L137.05,344.95 L137.83,343.75 L138.63,342.55 L139.43,341.36 L140.24,340.17 L141.05,338.99 L141.87,337.81 L142.70,336.64 L143.53,335.48 L144.38,334.31 L145.22,333.16 L146.08,332.01 L146.94,330.86 L147.81,329.71 L148.68,328.58 L149.56,327.44 L150.44,326.31 L151.34,325.18 L152.23,324.06 L153.14,322.94 L154.05,321.83 L154.96,320.72 L155.88,319.61 L156.81,318.51 L157.74,317.41 L158.68,316.31 L159.62,315.22 L160.57,314.13 L161.53,313.04 L162.48,311.95 L163.45,310.87 L164.42,309.79 L165.39,308.72 L166.37,307.64 L167.36,306.57 L168.34,305.51 L169.34,304.44 L170.34,303.38 L171.34,302.31 L172.35,301.26 L173.36,300.20 L174.38,299.15 L175.40,298.10 L176.43,297.06 L177.46,296.02 L178.50,294.98 L179.55,293.95 L180.60,292.93 L181.65,291.91 L182.72,290.90 L183.78,289.90 L184.86,288.90 L185.94,287.91 L187.03,286.93 L188.12,285.96 L189.22,284.99 L190.33,284.04 L191.44,283.09 L192.56,282.16 L193.69,281.23 L194.83,280.32 L195.97,279.42 L197.12,278.52 L198.28,277.64 L199.44,276.78 L200.62,275.92 L201.80,275.08 L202.99,274.25 L204.19,273.43 L205.39,272.63 L206.61,271.85 L207.83,271.07 L209.06,270.32 L210.30,269.58 L211.55,268.85 L212.81,268.14 L214.08,267.45 L215.36,266.77 L216.64,266.11 L217.93,265.46 L219.23,264.84 L220.54,264.22 L221.85,263.63 L223.17,263.04 L224.50,262.48 L225.84,261.93 L227.18,261.40 L228.53,260.88 L229.88,260.38 L231.24,259.90 L232.61,259.43 L233.98,258.98 L235.36,258.55 L236.74,258.13 L238.13,257.73 L239.52,257.34 L240.92,256.97 L242.32,256.62 L243.72,256.28 L245.13,255.96 L246.55,255.66 L247.96,255.37 L249.39,255.10 L250.81,254.85 L252.24,254.61 L253.67,254.39 L255.10,254.18 L256.54,253.99 L257.97,253.82 L259.41,253.67 L260.86,253.53 L262.30,253.40 L263.75,253.30 L265.19,253.21 L266.64,253.14 L268.09,253.08 L269.54,253.04 L270.99,253.02 L272.44,253.01 L273.89,253.03 L275.34,253.05 L276.79,253.10 L278.24,253.16 L279.69,253.24 L281.14,253.33 L282.59,253.44 L284.04,253.57 L285.48,253.72 L286.93,253.88 L288.37,254.06 L289.81,254.25 L291.25,254.47 L292.68,254.69 L294.12,254.94 L295.55,255.20 L296.97,255.48 L298.40,255.77 L299.82,256.08 L301.24,256.40 L302.65,256.74 L304.06,257.10 L305.46,257.47 L306.86,257.86 L308.26,258.27 L309.65,258.69 L311.04,259.12 L312.42,259.58 L313.79,260.04 L315.16,260.52 L316.53,261.02 L317.89,261.53 L319.24,262.06 L320.58,262.61 L321.92,263.17 L323.25,263.74 L324.58,264.33 L325.89,264.93 L327.20,265.55 L328.51,266.18 L329.80,266.83 L331.09,267.49 L332.36,268.17 L333.63,268.86 L334.90,269.56 L336.15,270.28 L337.40,271.01 L338.64,271.75 L339.88,272.50 L341.11,273.27 L342.33,274.04 L343.55,274.82 L344.76,275.62 L345.97,276.42 L347.17,277.23 L348.36,278.05 L349.55,278.88 L350.74,279.71 L351.92,280.56 L353.10,281.40 L354.28,282.26 L355.45,283.12 L356.62,283.98 L357.78,284.85 L358.94,285.72 L360.10,286.60 L361.26,287.48 L362.42,288.36 L363.57,289.25 L364.72,290.14 L365.86,291.03 L367.01,291.92 L368.15,292.82 L369.29,293.72 L370.42,294.63 L371.56,295.54 L372.69,296.45 L373.81,297.37 L374.94,298.28 L376.06,299.21 L377.18,300.13 L378.29,301.06 L379.40,302.00 L380.51,302.94 L381.61,303.88 L382.71,304.82 L383.81,305.77 L384.90,306.72 L385.99,307.68 L387.07,308.64 L388.16,309.60 L389.23,310.57 L390.31,311.55 L391.38,312.52 L392.44,313.50 L393.50,314.49 L394.56,315.48 L395.61,316.47 L396.66,317.47 L397.70,318.47 L398.74,319.48 L399.78,320.49 L400.81,321.50 L401.83,322.52 L402.85,323.55 L403.87,324.57 L404.88,325.61 L405.89,326.65 L406.89,327.69 L407.88,328.73 L408.88,329.79 L409.86,330.84 L410.84,331.90 L411.82,332.97 L412.79,334.04 L413.75,335.12 L414.71,336.20 L415.66,337.29 L416.61,338.38 L417.55,339.47 L418.49,340.57 L419.42,341.68 L420.35,342.79 L421.27,343.91 L422.18,345.03 L423.08,346.16 L423.99,347.29 L424.88,348.43 L425.77,349.57 L426.65,350.72 L427.53,351.88 L428.39,353.04 L429.26,354.20 L430.11,355.37 L430.96,356.55 L431.81,357.73 L432.64,358.92 L433.47,360.12 L434.29,361.32 L435.11,362.52 L435.92,363.73 L436.72,364.95 L437.51,366.17 L438.30,367.40 L439.08,368.64 L439.85,369.88 L440.62,371.13 L441.38,372.38 L442.13,373.64 L442.87,374.91 L443.61,376.18 L444.33,377.46 L445.30,378.50 Z" fill="#e0693a"/>
<path d="M114.50,378.50 L115.39,378.55 L116.05,378.16 L116.71,377.78 L117.38,377.40 L118.04,377.01 L118.71,376.63 L119.38,376.25 L120.05,375.87 L120.72,375.49 L121.39,375.11 L122.06,374.74 L122.73,374.36 L123.41,373.98 L124.08,373.61 L124.76,373.23 L125.44,372.86 L126.12,372.49 L126.80,372.12 L127.48,371.75 L128.16,371.38 L128.84,371.01 L129.53,370.64 L130.21,370.28 L130.90,369.91 L131.59,369.55 L132.28,369.19 L132.96,368.83 L133.65,368.47 L134.35,368.11 L135.04,367.75 L135.73,367.40 L136.43,367.04 L137.12,366.69 L137.82,366.34 L138.51,365.99 L139.21,365.64 L139.91,365.29 L140.61,364.95 L141.31,364.61 L142.01,364.26 L142.72,363.92 L143.42,363.59 L144.13,363.25 L144.83,362.91 L145.54,362.58 L146.25,362.25 L146.95,361.92 L147.66,361.59 L148.37,361.27 L149.09,360.94 L149.80,360.62 L150.51,360.30 L151.22,359.98 L151.94,359.67 L152.65,359.36 L153.37,359.04 L154.09,358.73 L154.81,358.43 L155.53,358.12 L156.25,357.82 L156.97,357.52 L157.69,357.22 L158.41,356.93 L159.13,356.63 L159.86,356.34 L160.58,356.05 L161.31,355.77 L162.04,355.48 L162.76,355.20 L163.49,354.92 L164.22,354.65 L164.95,354.37 L165.68,354.10 L166.41,353.83 L167.14,353.57 L167.88,353.30 L168.61,353.04 L169.35,352.78 L170.08,352.53 L170.82,352.28 L171.55,352.03 L172.29,351.78 L173.03,351.54 L173.77,351.30 L174.51,351.06 L175.25,350.83 L175.99,350.59 L176.73,350.36 L177.47,350.14 L178.22,349.92 L178.96,349.70 L179.71,349.48 L180.45,349.27 L181.20,349.06 L181.95,348.85 L182.69,348.65 L183.44,348.45 L184.19,348.25 L184.94,348.06 L185.69,347.87 L186.44,347.68 L187.19,347.50 L187.95,347.32 L188.70,347.14 L189.45,346.97 L190.21,346.80 L190.96,346.63 L191.72,346.47 L192.47,346.31 L193.23,346.16 L193.99,346.01 L194.74,345.86 L195.50,345.72 L196.26,345.58 L197.02,345.44 L197.78,345.31 L198.54,345.18 L199.30,345.05 L200.06,344.93 L200.83,344.81 L201.59,344.69 L202.35,344.58 L203.11,344.48 L203.88,344.37 L204.64,344.27 L205.41,344.17 L206.17,344.08 L206.93,343.99 L207.70,343.90 L208.47,343.82 L209.23,343.74 L210.00,343.67 L210.76,343.60 L211.53,343.53 L212.30,343.47 L213.07,343.41 L213.83,343.35 L214.60,343.30 L215.37,343.25 L216.14,343.20 L216.91,343.16 L217.67,343.12 L218.44,343.09 L219.21,343.06 L219.98,343.03 L220.75,343.00 L221.52,342.99 L222.29,342.97 L223.06,342.96 L223.83,342.95 L224.59,342.94 L225.36,342.94 L226.13,342.94 L226.90,342.95 L227.67,342.96 L228.44,342.97 L229.21,342.99 L229.98,343.01 L230.75,343.04 L231.52,343.07 L232.29,343.10 L233.05,343.13 L233.82,343.17 L234.59,343.22 L235.36,343.26 L236.13,343.32 L236.90,343.37 L237.66,343.43 L238.43,343.49 L239.20,343.56 L239.97,343.63 L240.73,343.70 L241.50,343.78 L242.26,343.86 L243.03,343.94 L243.80,344.03 L244.56,344.13 L245.33,344.22 L246.09,344.32 L246.86,344.43 L247.62,344.53 L248.38,344.65 L249.15,344.76 L249.91,344.88 L250.67,345.00 L251.43,345.13 L252.19,345.26 L252.95,345.39 L253.71,345.53 L254.47,345.67 L255.23,345.82 L255.99,345.97 L256.75,346.12 L257.51,346.28 L258.27,346.44 L259.02,346.60 L259.78,346.77 L260.53,346.94 L261.29,347.11 L262.04,347.29 L262.80,347.47 L263.55,347.65 L264.30,347.84 L265.05,348.03 L265.81,348.23 L266.56,348.43 L267.31,348.63 L268.06,348.83 L268.80,349.04 L269.55,349.25 L270.30,349.47 L271.04,349.69 L271.79,349.91 L272.53,350.13 L273.28,350.36 L274.02,350.59 L274.76,350.82 L275.50,351.06 L276.24,351.30 L276.98,351.55 L277.72,351.79 L278.46,352.04 L279.20,352.30 L279.93,352.55 L280.67,352.81 L281.40,353.07 L282.14,353.34 L282.87,353.61 L283.60,353.88 L284.33,354.15 L285.06,354.43 L285.79,354.71 L286.52,354.99 L287.24,355.27 L287.97,355.56 L288.69,355.85 L289.42,356.15 L290.14,356.44 L290.86,356.74 L291.58,357.04 L292.30,357.35 L293.02,357.66 L293.74,357.97 L294.45,358.28 L295.17,358.59 L295.88,358.91 L296.59,359.23 L297.30,359.55 L298.01,359.88 L298.72,360.21 L299.43,360.54 L300.14,360.87 L300.84,361.21 L301.54,361.55 L302.25,361.89 L302.95,362.23 L303.65,362.57 L304.35,362.92 L305.04,363.27 L305.74,363.62 L306.44,363.98 L307.13,364.34 L307.82,364.69 L308.51,365.06 L309.20,365.42 L309.89,365.79 L310.58,366.15 L311.26,366.52 L311.94,366.90 L312.63,367.27 L313.31,367.65 L313.99,368.03 L314.66,368.41 L315.34,368.79 L316.02,369.18 L316.69,369.56 L317.36,369.95 L318.03,370.34 L318.70,370.74 L319.37,371.13 L320.03,371.53 L320.70,371.93 L321.36,372.33 L322.02,372.73 L322.68,373.13 L323.34,373.54 L323.99,373.95 L324.65,374.36 L325.30,374.77 L325.95,375.18 L326.60,375.60 L327.25,376.01 L327.90,376.43 L328.54,376.85 L329.18,377.27 L329.82,377.70 L330.46,378.12 L331.10,378.55 L332.00,378.50 Z" fill="#f3ca12"/>

<!-- label lines -->
<g fill="none" stroke-width="3" stroke-linecap="round" stroke-linejoin="round">
<path d="M9,357.1 H112" stroke="#d61f2b"/>
<path d="M10.5,177.5 H162.5" stroke="#efa63f"/>
<path d="M86,90.3 H229 V164.5" stroke="#2db4b6"/>
<path d="M294.6,254 V42.1 H645" stroke="#df5829"/>
<path d="M359.5,107.2 H629.5 M422.6,107.2 V218.5" stroke="#68c846"/>
<path d="M447,217.3 H659.5 M629.3,217.3 V316.5" stroke="#236f33"/>
</g>
<text x="292.00" y="31.00" font-size="25.5" fill="#df5829" font-weight="bold" textLength="354.03" lengthAdjust="spacingAndGlyphs">Kopf- und Gliederschmerzen</text>
<text x="359.00" y="94.10" font-size="25" fill="#68c846" font-weight="bold" textLength="270.71" lengthAdjust="spacingAndGlyphs">Trockener Reizhusten</text>
<text x="84.50" y="80.60" font-size="25" fill="#2db4b6" font-weight="bold" textLength="132.03" lengthAdjust="spacingAndGlyphs">Schnupfen</text>
<text x="8.20" y="137.00" font-size="24.5" fill="#efa63f" font-weight="bold" textLength="62.30" lengthAdjust="spacingAndGlyphs">Hals-</text>
<text x="9.00" y="167.00" font-size="24.5" fill="#efa63f" font-weight="bold" textLength="135.06" lengthAdjust="spacingAndGlyphs">schmerzen</text>
<text x="443.40" y="171.80" font-size="27" fill="#236f33" font-weight="bold" textLength="150.82" lengthAdjust="spacingAndGlyphs">Husten mit</text>
<text x="444.40" y="204.00" font-size="27" fill="#236f33" font-weight="bold" textLength="217.00" lengthAdjust="spacingAndGlyphs">Schleimauswurf</text>
<text x="7.75" y="346.80" font-size="23" fill="#d61f2b" font-weight="bold" textLength="107.79" lengthAdjust="spacingAndGlyphs">Infektion</text>
<text x="187.00" y="372.80" font-size="28.5" fill="#ffffff" font-weight="bold" textLength="86.57" lengthAdjust="spacingAndGlyphs">Fieber</text>
<text x="39.90" y="407.40" font-size="27" fill="#adadad" textLength="24.67" lengthAdjust="spacingAndGlyphs">1.</text>
<text x="108.90" y="407.40" font-size="27" fill="#adadad" textLength="22.87" lengthAdjust="spacingAndGlyphs">2.</text>
<text x="174.60" y="407.40" font-size="27" fill="#adadad" textLength="23.68" lengthAdjust="spacingAndGlyphs">3.</text>
<text x="244.40" y="407.40" font-size="27" fill="#adadad" textLength="23.62" lengthAdjust="spacingAndGlyphs">4.</text>
<text x="308.40" y="407.40" font-size="27" fill="#adadad" textLength="24.87" lengthAdjust="spacingAndGlyphs">5.</text>
<text x="374.80" y="407.40" font-size="27" fill="#adadad" textLength="25.21" lengthAdjust="spacingAndGlyphs">6.</text>
<text x="444.00" y="407.40" font-size="27" fill="#adadad" textLength="24.19" lengthAdjust="spacingAndGlyphs">7.</text>
<text x="509.40" y="407.40" font-size="27" fill="#adadad" textLength="25.19" lengthAdjust="spacingAndGlyphs">8.</text>
<text x="578.80" y="407.40" font-size="27" fill="#adadad" textLength="24.24" lengthAdjust="spacingAndGlyphs">9.</text>
<text x="625.00" y="407.40" font-size="27" fill="#adadad" textLength="39.34" lengthAdjust="spacingAndGlyphs">10.</text>
<text x="665.40" y="407.40" font-size="27" fill="#adadad" textLength="44.99" lengthAdjust="spacingAndGlyphs">Tag</text>
<text transform="translate(708.00,274.20) rotate(-90)" font-size="31" fill="#d4145a" font-weight="bold" textLength="150.46" lengthAdjust="spacingAndGlyphs">Intensität</text>
<!-- intensity axis -->
<path d="M696,28 V113 M696,284 V374" stroke="#d4145a" stroke-width="4" fill="none"/>
<path d="M686.4,30.7 L696.4,13.6 L706,30.7 Z" fill="#d4145a"/>
</svg>
</body></html>
